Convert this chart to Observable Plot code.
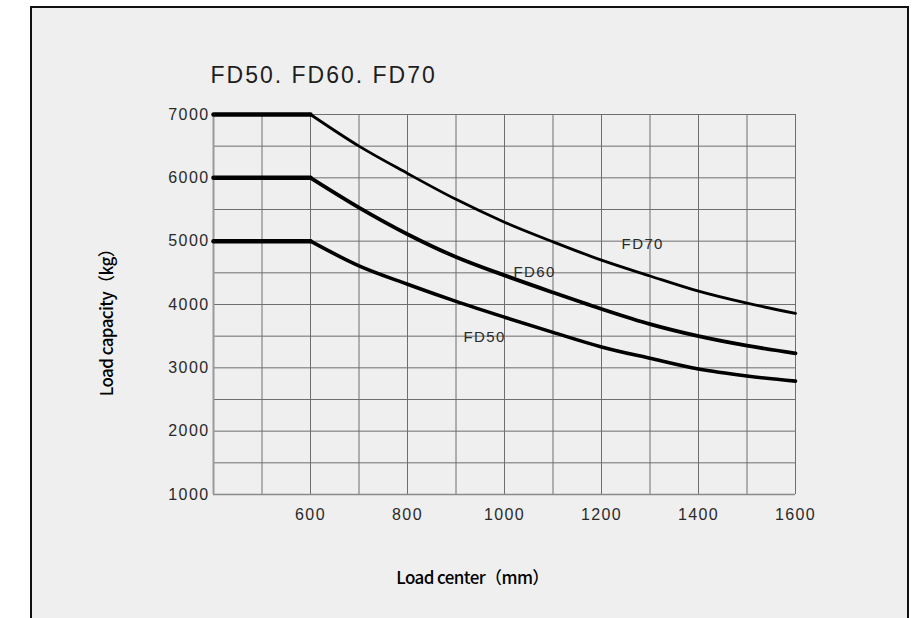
<!DOCTYPE html>
<html>
<head>
<meta charset="utf-8">
<script src="https://cdn.jsdelivr.net/npm/d3@7"></script>
<script src="https://cdn.jsdelivr.net/npm/@observablehq/plot@0.6"></script>
<style>
  html, body { margin: 0; padding: 0; background: #ffffff; overflow: hidden; width: 919px; height: 618px; }
  #frame { position: absolute; left: 30px; top: 6px; width: 875px; height: 640px;
           border: 2px solid #111; border-bottom: none; background: #efefef; }
  #chart { position: absolute; left: 0; top: 0; }
  #chart svg { overflow: visible; }
  g[aria-label="x-axis tick label"] text, g[aria-label="y-axis tick label"] text { letter-spacing: 1.4px; }
</style>
</head>
<body>
<div id="frame"></div>
<div id="chart"></div>
<script>
const loadCenter = [400, 500, 600, 700, 800, 900, 1000, 1100, 1200, 1300, 1400, 1500, 1600];
const fd70 = [7000, 7000, 7000, 6500, 6070, 5660, 5300, 4990, 4700, 4450, 4210, 4020, 3860];
const fd60 = [6000, 6000, 6000, 5530, 5110, 4750, 4460, 4190, 3930, 3690, 3500, 3350, 3230];
const fd50 = [5000, 5000, 5000, 4610, 4320, 4050, 3800, 3560, 3330, 3150, 2980, 2870, 2790];
const seriesNames = ["FD70", "FD60", "FD50"];
const seriesValues = [fd70, fd60, fd50];
const curveWidths = [2.8, 3.8, 3.6];
const labelX = [1285, 1062, 959];
const labelY = [4960, 4510, 3485];
const xTicks = [600, 800, 1000, 1200, 1400, 1600];
const yTicks = [1000, 2000, 3000, 4000, 5000, 6000, 7000];
const xGrid = [400, 500, 600, 700, 800, 900, 1000, 1100, 1200, 1300, 1400, 1500, 1600];
const yGrid = [1000, 1500, 2000, 2500, 3000, 3500, 4000, 4500, 5000, 5500, 6000, 6500, 7000];
const titleText = "FD50. FD60. FD70";
const xTitle = "Load center（mm）";
const yTitle = "Load capacity（kg）";

const rows = [];
seriesNames.forEach((s, i) => loadCenter.forEach((x, j) => rows.push({series: s, x, y: seriesValues[i][j]})));
const labels = seriesNames.map((s, i) => ({series: s, x: labelX[i], y: labelY[i]}));

const curveMarks = seriesNames.map((s, i) =>
  Plot.line(rows.filter(d => d.series === s && d.x >= 600), {x: "x", y: "y", stroke: "#000", strokeWidth: curveWidths[i], curve: "monotone-x"})
);

const chart = Plot.plot({
  width: 919,
  height: 618,
  marginLeft: 213,
  marginRight: 124,
  marginTop: 114,
  marginBottom: 124,
  style: {background: "transparent", fontFamily: "'Liberation Sans', Arial, sans-serif", fontSize: "16px", color: "#333"},
  x: {domain: [400, 1600]},
  y: {domain: [1000, 7000]},
  marks: [
    Plot.ruleX(xGrid, {stroke: "#6e6e6e", strokeWidth: 1}),
    Plot.ruleY(yGrid, {stroke: "#6e6e6e", strokeWidth: 1}),
    Plot.ruleX([400], {stroke: "#9a9a9a", strokeWidth: 2}),
    Plot.ruleY([1000], {stroke: "#8a8a8a", strokeWidth: 1.5}),
    Plot.axisX({ticks: xTicks, tickFormat: d3.format("d"), tickSize: 0, tickPadding: 14, label: null, fill: "#2a2a2a", fontSize: 16}),
    Plot.axisY({ticks: yTicks, tickFormat: d3.format("d"), tickSize: 0, tickPadding: 4, label: null, fill: "#2a2a2a", fontSize: 16}),
    Plot.line(rows.filter(d => d.x <= 600), {x: "x", y: "y", z: "series", stroke: "#000", strokeWidth: 4.5}),
    ...curveMarks,
    Plot.text(labels, {x: "x", y: "y", text: "series", fill: "#2a2a2a", fontSize: 15}),
    Plot.text([titleText], {frameAnchor: "top-left", dx: -3, dy: -39, textAnchor: "start", lineAnchor: "middle", fontSize: 23, fill: "#1e1e1e"}),
    Plot.text([xTitle], {frameAnchor: "bottom", dx: -32, dy: 84, textAnchor: "middle", lineAnchor: "middle", fontSize: 17, fontWeight: 500, fontFamily: "'Noto Sans CJK SC', 'Noto Sans', sans-serif", fill: "#000"}),
    Plot.text([yTitle], {frameAnchor: "left", dx: -106, dy: 14, rotate: -90, textAnchor: "middle", lineAnchor: "middle", fontSize: 17, fontWeight: 500, fontFamily: "'Noto Sans CJK SC', 'Noto Sans', sans-serif", fill: "#000"})
  ]
});
document.getElementById("chart").appendChild(chart);

// letter spacing for specific texts
d3.select(chart).selectAll("text").each(function () {
  const t = this.textContent;
  if (t === titleText) this.style.letterSpacing = "2px";
  else if (seriesNames.includes(t)) this.style.letterSpacing = "1.4px";
  else if (t === xTitle || t === yTitle) this.style.letterSpacing = "-0.6px";
});
</script>
</body>
</html>
